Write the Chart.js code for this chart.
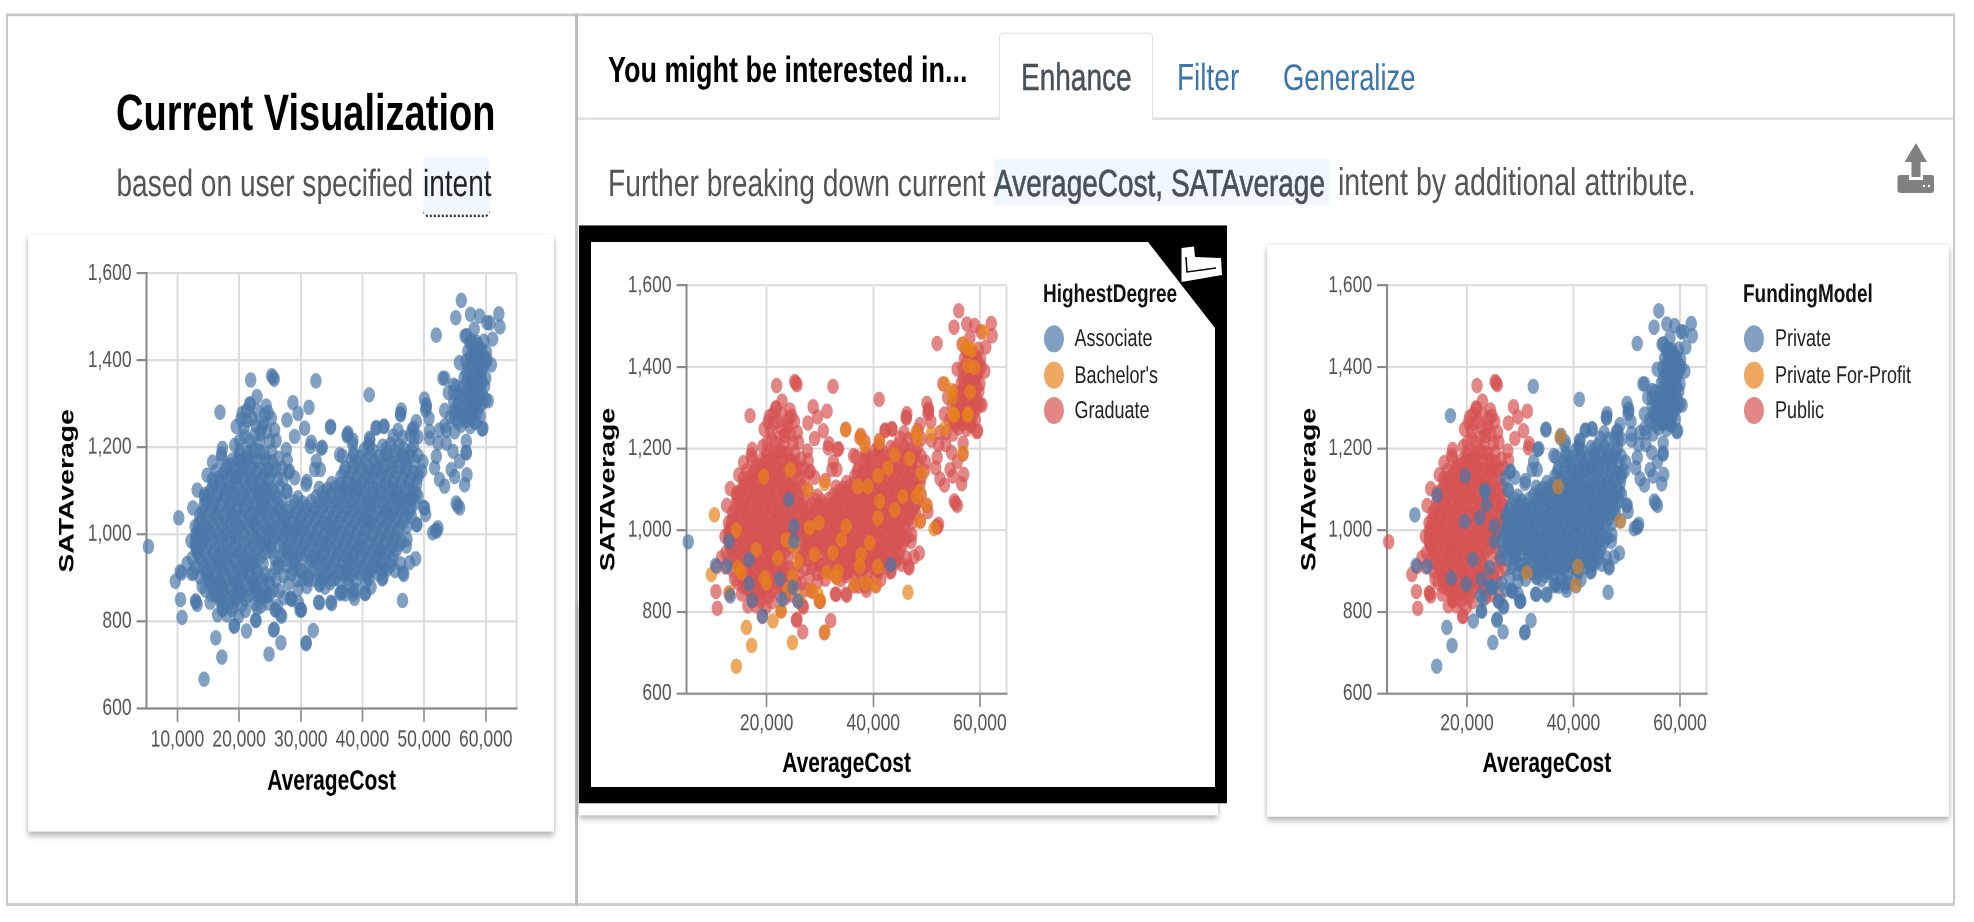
<!DOCTYPE html>
<html>
<head>
<meta charset="utf-8">
<title>Current Visualization</title>
<script src="https://cdn.jsdelivr.net/npm/chart.js@4"></script>
<style>
html, body { margin: 0; background: #fff; overflow: hidden; }
body { width: 1974px; height: 922px; position: relative; font-family: "Liberation Sans", Arial, sans-serif; text-rendering: geometricPrecision; }
/* la captura original esta estirada en vertical, asi que se estira todo igual */
#pagina { position: absolute; left: 0; top: 0; width: 1974px; height: 683px; transform: scale(1, 1.35); transform-origin: 0 0; }
#pagina div, #pagina canvas { position: absolute; }
.txt { white-space: nowrap; line-height: 1; transform: translateY(-50%); }
svg { position: absolute; left: 0; top: 0; }
</style>
</head>
<body>
<div id="pagina"></div>
<svg width="1974" height="922">
  <path d="M1181.5 248 L1194 246.5 L1195 257 L1221 258 L1222 275 L1181.5 282 Z" fill="#fff"/>
  <path d="M1186 257 L1187 272 L1216 268" fill="none" stroke="#000" stroke-width="1.5"/>
  <path d="M1916 143 L1927 162 L1920.5 162 L1920.5 177 L1911.5 177 L1911.5 162 L1904.5 162 Z" fill="#808080"/>
  <path d="M1900 175 L1909 175 L1909 180 L1923 180 L1923 175 L1932 175 Q1934 175 1934 178 L1934 190 Q1934 193 1931 193 L1901 193 Q1897.5 193 1897.5 190 L1897.5 178 Q1897.5 175 1900 175 Z" fill="#808080"/>
  <circle cx="1924" cy="186" r="1.2" fill="#fff"/><circle cx="1929" cy="186" r="1.2" fill="#fff"/>
</svg>
<script>
// etiquetas
const tituloX = 'AverageCost';
const tituloY = 'SATAverage';
const gradosLabels = ['Associate', "Bachelor's", 'Graduate'];
const fondosLabels = ['Private', 'Private For-Profit', 'Public'];
const ticksY = [600, 800, 1000, 1200, 1400, 1600];
const ticksXActual = [10000, 20000, 30000, 40000, 50000, 60000, 65000];
const ticksXChico = [20000, 40000, 60000, 65000];

// AverageCost, SATAverage, por tipo de universidad y grado
const publicAssociate = [
    [5300, 972], [19250, 790], [16690, 928], [12940, 973], [13190, 839], [16690, 869], [22440, 881], [24190, 1075], [17250, 828]
];
const privateAssociate = [
    [10440, 914], [12565, 912], [22940, 831], [24940, 861], [25880, 827], [43250, 916], [25130, 1010], [25130, 973]
];
const publicBachelor = [
    [9650, 892], [19440, 1132], [18065, 953], [22130, 932], [14630, 908], [15250, 896], [19940, 871], [19630, 884],
    [24440, 1148], [23690, 977], [25250, 961], [14315, 1000], [25880, 924], [24940, 888], [24000, 855], [26190, 835], [12940, 847]
];
const privateBachelor = [
    [10220, 1038], [16220, 762], [17200, 718], [14320, 667], [21200, 778], [22750, 802], [24850, 725], [30900, 751],
    [30100, 827], [28400, 853], [29630, 843], [46500, 848], [51400, 1004], [34820, 1246], [38380, 1209], [41190, 1217],
    [48060, 1241], [48380, 1225], [50880, 1237], [53380, 1250], [54940, 1286], [57750, 1286], [56810, 1189], [44000, 1185],
    [46800, 1176], [42750, 1152], [49000, 1140], [40880, 1134], [39000, 1107], [48690, 1095], [48060, 1083], [49940, 1062],
    [41190, 1071], [44000, 1050], [45560, 1083], [40880, 1030], [29810, 1018], [28060, 1007], [30880, 1115], [27750, 1099],
    [34000, 977], [39310, 969], [34940, 1010], [29000, 941], [32440, 945], [37750, 941], [37440, 912], [33380, 900],
    [33065, 884], [36500, 867], [38500, 871], [56900, 1457], [60670, 1486], [53360, 1359], [54790, 1343], [54790, 1326],
    [57730, 1404], [58990, 1400], [57730, 1445], [58500, 1442], [58150, 1339], [55210, 1282], [57730, 1282]
];
const forProfitBachelor = [
    [37580, 1229], [37080, 1107], [48790, 1022], [40840, 911], [40400, 865], [31260, 896]
];
const publicGraduate = [
    [10500, 850], [10750, 809], [11550, 933], [10660, 911], [12330, 910], [12870, 1018], [13040, 969], [13640, 902],
    [13000, 845], [14540, 872], [15300, 844], [17400, 828], [19900, 812], [19190, 789], [21700, 1300], [28730, 1303],
    [31330, 1292], [27760, 1263], [29550, 1278], [30630, 1244], [29000, 1225], [31700, 1212], [31540, 1202], [27650, 1195],
    [24400, 1295], [21880, 1355], [25280, 1365], [25700, 1357], [25480, 1361], [22900, 1317], [21820, 1299], [20500, 1278],
    [19540, 1248], [22140, 1267], [24140, 1275], [25220, 1267], [25760, 1240], [21700, 1214], [23330, 1214], [24950, 1214],
    [17300, 1198], [17150, 1185], [26460, 1175], [24680, 1168], [25490, 1145], [18030, 1156], [20080, 1183], [15650, 1127],
    [14400, 1092], [20300, 1265], [23700, 1246], [20900, 1225], [22500, 1228], [19300, 1205], [22000, 1195], [23400, 1190],
    [20800, 1245], [21300, 1262], [22800, 1250], [23400, 1232], [24500, 1236], [26000, 1216], [20100, 1215], [24000, 1256],
    [21200, 1285], [22900, 1284], [24700, 1280], [27000, 1152], [27800, 1171], [12500, 1061], [13200, 1102], [14800, 1136],
    [15700, 1166], [12200, 985], [12400, 945], [13000, 925], [16300, 1146], [17200, 1176], [14000, 881], [15600, 861],
    [17000, 846], [19000, 835], [20500, 838], [21500, 860], [22800, 862], [21000, 825], [23500, 835], [18000, 815],
    [16500, 815], [25800, 945], [26400, 925], [25200, 905], [26000, 895], [27200, 905], [25600, 872], [18900, 826],
    [21200, 1176], [19800, 1170], [22300, 1166], [18700, 1160], [20700, 1158],
    [17400, 1141], [18700, 1137], [20300, 1144], [21500, 1139], [22800, 1143], [24000, 1136],
    [15900, 1116], [17000, 1121], [18400, 1113], [19500, 1119], [20900, 1115], [22200, 1122], [23300, 1116], [24700, 1112],
    [15200, 1097], [16600, 1094], [17800, 1101], [19100, 1096], [20500, 1092], [21800, 1099], [23100, 1093], [24400, 1100], [25800, 1095],
    [14600, 1078], [15900, 1073], [17300, 1079], [18600, 1074], [20000, 1080], [21300, 1075], [22700, 1072], [24000, 1078], [25500, 1074], [26900, 1077],
    [14100, 1052], [15400, 1057], [16800, 1051], [18200, 1056], [19500, 1053], [20900, 1058], [22300, 1050], [23700, 1055], [25000, 1052], [26400, 1057],
    [13800, 1034], [15100, 1030], [16500, 1035], [17900, 1029], [19200, 1033], [20600, 1036], [22000, 1030], [23400, 1034], [24800, 1031], [26200, 1035],
    [13300, 1008], [14700, 1013], [16100, 1009], [17400, 1012], [18900, 1007], [20300, 1011], [21700, 1014], [23000, 1008], [24500, 1012], [25900, 1007],
    [13000, 991], [14400, 988], [15800, 992], [17200, 987], [18600, 993], [20000, 989], [21400, 986], [22800, 991], [24200, 988], [25600, 992],
    [13100, 966], [14600, 970], [16000, 965], [17400, 971], [18800, 967], [20200, 964], [21600, 969], [23000, 966], [24400, 972],
    [13700, 948], [15100, 943], [16500, 949], [17900, 945], [19300, 942], [20700, 947], [22100, 944], [23500, 948],
    [14200, 923], [15600, 928], [17000, 924], [18400, 926], [19800, 921], [21200, 927], [22600, 923],
    [15000, 907], [16300, 903], [17700, 906], [19100, 902], [20500, 908], [21900, 904], [23400, 901],
    [15400, 882], [16900, 886], [18200, 881], [19700, 885], [21100, 883], [22600, 887], [24100, 880],
    [16200, 860], [17600, 864], [19000, 858], [20400, 862], [23300, 859],
    [17500, 843], [18900, 846], [24600, 842],
    [20100, 1192], [21400, 1188], [22700, 1193], [24000, 1187], [25300, 1191],
    [18900, 1171], [20300, 1168], [21600, 1173], [22900, 1169], [24200, 1172], [25400, 1167],
    [17900, 1149], [19300, 1152], [20700, 1148], [22000, 1153], [23400, 1150], [24700, 1147], [26000, 1152],
    [16700, 1129], [18000, 1126], [19400, 1131], [20700, 1127], [22000, 1130], [23500, 1125], [24900, 1129], [26200, 1127],
    [15600, 1106], [17000, 1109], [18400, 1104], [19800, 1108], [21200, 1105], [22600, 1110], [24000, 1106], [25300, 1103], [26600, 1108],
    [15000, 1088], [16300, 1085], [17700, 1090], [19000, 1086], [20400, 1083], [21800, 1088], [23200, 1084], [24500, 1089], [26100, 1085],
    [14300, 1066], [15700, 1063], [17000, 1067], [18500, 1064], [19800, 1061], [21200, 1066], [22600, 1063], [24000, 1068], [25300, 1064], [26700, 1062],
    [13600, 1044], [14800, 1041], [16200, 1045], [17600, 1042], [18900, 1046], [20300, 1040], [21700, 1044], [23100, 1041], [24500, 1045], [25900, 1042], [27000, 1046],
    [13400, 1022], [14500, 1019], [15800, 1023], [17300, 1020], [18600, 1024], [20000, 1018], [21400, 1022], [22700, 1020], [24100, 1023], [25500, 1019], [26800, 1021],
    [13000, 1001], [14000, 998], [15300, 1002], [16700, 999], [18000, 1003], [19400, 997], [20800, 1001], [22200, 998], [23500, 1002], [24900, 999], [26300, 1000],
    [12900, 979], [13900, 976], [15300, 980], [16800, 977], [18100, 981], [19500, 975], [20900, 979], [22300, 976], [23700, 980], [25100, 977],
    [13200, 958], [14400, 955], [15800, 959], [17100, 956], [18600, 960], [20000, 954], [21300, 958], [22800, 955], [24300, 959],
    [14000, 936], [15400, 933], [16800, 937], [18200, 934], [19600, 938], [21000, 932], [22400, 936], [23900, 933],
    [14700, 915], [15900, 912], [17300, 916], [18800, 913], [20200, 917], [21600, 911], [23000, 915],
    [15200, 895], [16600, 892], [18000, 896], [19400, 893], [20800, 897], [22300, 891], [23800, 895],
    [15900, 874], [17300, 871], [18700, 875], [20100, 872], [21800, 876], [23000, 870],
    [16900, 853], [18300, 850], [19700, 854], [21000, 851]
];
const privateGraduate = [
    [25580, 780], [26780, 751], [30840, 749], [32030, 779], [25700, 782], [24390, 864], [22600, 841], [25880, 826],
    [26900, 812], [30060, 826], [33040, 843], [35010, 841], [28570, 850], [38710, 853], [36330, 864], [37220, 863],
    [40500, 864], [41400, 879], [33940, 879], [43190, 898], [42300, 925], [51850, 1009], [52080, 1008], [52250, 1015],
    [55200, 1072], [55760, 1061], [55430, 1066], [50090, 1061], [50250, 1046], [48840, 1023], [47920, 1042], [47220, 989],
    [47110, 973], [48630, 944], [47650, 935], [46570, 912], [43330, 920], [42520, 962], [16900, 1281],
    [34840, 1248], [33500, 1200], [32520, 1168], [32250, 1149], [33170, 1149], [28190, 1145], [27110, 1126], [29000, 1130],
    [31000, 1122], [27760, 1099], [29540, 1084], [37650, 1233], [38460, 1217], [36300, 1183], [38570, 1187], [41170, 1221],
    [41060, 1202], [42250, 1246], [43490, 1249], [46300, 1286], [46190, 1275], [45760, 1239], [48730, 1259], [48300, 1244],
    [50350, 1298], [50250, 1286], [50790, 1267], [53330, 1285], [54950, 1267], [56570, 1263], [58360, 1298], [59550, 1244],
    [58360, 1257], [53600, 1239], [54950, 1236], [50900, 1221], [52520, 1240], [52250, 1210], [53600, 1210], [54680, 1191],
    [56840, 1214], [56840, 1187], [55760, 1168], [54410, 1149], [54950, 1133], [56950, 1137], [56570, 1114], [53330, 1111],
    [52520, 1126], [51700, 1153], [51980, 1179], [41100, 1321], [32450, 1353], [56030, 1538], [55130, 1498], [57520, 1506],
    [59010, 1502], [62120, 1507], [62300, 1477], [60200, 1487], [61100, 1449], [51970, 1458], [58120, 1472], [56630, 1456],
    [60900, 1390], [53050, 1359], [55730, 1395], [60400, 1307], [59400, 1242], [53940, 1326], [55430, 1319], [42200, 1244],
    [43500, 1248], [37500, 1227], [46180, 1277], [50060, 1311], [50360, 1292], [14360, 1086], [19660, 1133], [23500, 1094],
    [23310, 1099], [23620, 1062], [22370, 1030], [19560, 1022], [21120, 928], [17050, 883], [19870, 868], [22680, 880],
    [24250, 908], [24560, 859], [26750, 815], [22680, 803], [29570, 875], [28320, 853], [29880, 826], [32890, 844],
    [34890, 844], [36770, 867], [38520, 863], [43340, 900], [33300, 1198], [36770, 1180], [28000, 1143],
    [28000, 888], [26500, 870], [27300, 855], [31000, 880], [29500, 895], [27800, 962],
    [57400, 1441], [58600, 1436], [59700, 1444], [57100, 1421], [58200, 1417], [59300, 1424], [60100, 1419],
    [56800, 1398], [58000, 1403], [59100, 1396], [60200, 1401], [57200, 1382], [58300, 1378], [59500, 1383],
    [56500, 1361], [57700, 1357], [58900, 1363], [60000, 1359], [56300, 1338], [57500, 1342], [58600, 1337], [59800, 1341],
    [56000, 1321], [57300, 1318], [58400, 1323], [59500, 1319], [55500, 1299], [57000, 1303], [58300, 1298], [59400, 1301],
    [55800, 1279], [57100, 1283], [58500, 1277], [55400, 1258], [56800, 1262], [58200, 1259],
    [57900, 1431], [59000, 1428], [57500, 1409], [58700, 1412], [59800, 1407], [57500, 1391], [58700, 1388], [59900, 1392],
    [56900, 1371], [58000, 1368], [59200, 1373], [57000, 1352], [58200, 1349], [59400, 1353], [56900, 1331], [58000, 1328],
    [59200, 1332], [56400, 1311], [57700, 1308], [58900, 1312], [60000, 1309], [56300, 1291], [57600, 1288], [58900, 1292],
    [56400, 1271], [57800, 1268], [59100, 1272], [56000, 1251], [57500, 1248], [54800, 1305], [55200, 1340], [54300, 1270],
    [45000, 1226], [46500, 1223], [47800, 1228], [49000, 1224], [41000, 1206], [43300, 1203], [44600, 1208], [45900, 1204], [48300, 1202],
    [40300, 1195], [41700, 1193], [43900, 1197], [45300, 1192], [46700, 1196], [47900, 1194],
    [38600, 1181], [39700, 1178], [41300, 1183], [42700, 1179], [43900, 1182], [45200, 1177], [46400, 1183], [47700, 1179], [49000, 1181],
    [38200, 1169], [39300, 1166], [40500, 1170], [41900, 1167], [43200, 1171], [44600, 1165], [45900, 1169], [47100, 1166], [48400, 1170], [49800, 1167],
    [37200, 1153], [38500, 1157], [39800, 1152], [41000, 1156], [42200, 1154], [43500, 1158], [44800, 1153], [46000, 1156], [47300, 1151],
    [37000, 1144], [38200, 1141], [39500, 1145], [40800, 1142], [42000, 1146], [43200, 1140], [44500, 1144], [45700, 1141], [47000, 1145], [48300, 1142], [49600, 1146],
    [36500, 1132], [37800, 1128], [39000, 1131], [40300, 1127], [41500, 1133], [42800, 1129], [44000, 1132], [45300, 1128], [46500, 1131], [47800, 1127], [49000, 1132],
    [35000, 1117], [36300, 1114], [37500, 1118], [38700, 1115], [40000, 1119], [41200, 1113], [42400, 1117], [43700, 1114], [45000, 1118], [46200, 1115], [47500, 1119], [48800, 1116],
    [33000, 1106], [34300, 1103], [35500, 1107], [36800, 1102], [38000, 1105], [39300, 1108], [40500, 1103], [41800, 1106], [43000, 1102], [44300, 1107], [45500, 1104], [47000, 1108], [48200, 1103],
    [32500, 1086], [33800, 1083], [35000, 1088], [36300, 1084], [37600, 1087], [38800, 1082], [40100, 1086], [41400, 1083], [42700, 1088], [44000, 1084], [45200, 1087], [46500, 1082], [47800, 1085], [49000, 1088],
    [28400, 1064], [29700, 1060], [31000, 1063], [32300, 1059], [33600, 1065], [34900, 1061], [36200, 1064], [37500, 1060], [38800, 1063], [40100, 1058], [41400, 1064], [42700, 1060], [44000, 1063], [45300, 1059], [46600, 1064], [47900, 1061],
    [27500, 1038], [28800, 1042], [30100, 1039], [31400, 1043], [32700, 1037], [34000, 1041], [35300, 1038], [36600, 1043], [37900, 1039], [39200, 1042], [40500, 1037], [41800, 1041], [43100, 1038], [44400, 1042], [45700, 1039], [47000, 1043],
    [27800, 1019], [29100, 1016], [30400, 1020], [31700, 1015], [33000, 1018], [34300, 1021], [35600, 1016], [36900, 1019], [38200, 1015], [39500, 1020], [40800, 1017], [42100, 1021], [43400, 1016], [44700, 1019], [46000, 1015], [47200, 1018],
    [27200, 997], [28500, 994], [29800, 998], [31100, 993], [32400, 996], [33700, 999], [35000, 994], [36300, 997], [37600, 993], [38900, 998], [40200, 995], [41500, 999], [42800, 994], [44100, 997], [45300, 993],
    [26500, 977], [27900, 973], [29200, 976], [30500, 972], [31800, 978], [33100, 974], [34400, 977], [35700, 972], [37000, 975], [38300, 979], [39600, 973], [40900, 976], [42200, 972], [43500, 977], [44800, 974], [46000, 978],
    [26800, 950], [28100, 954], [29400, 951], [30700, 955], [32000, 949], [33300, 953], [34600, 950], [35900, 955], [37200, 951], [38500, 954], [39800, 949], [41100, 953], [42400, 950], [43700, 955], [45000, 951],
    [26300, 932], [27700, 928], [29000, 931], [31500, 927], [32800, 933], [34100, 929], [35400, 932], [36700, 928], [38000, 931], [39300, 927], [40600, 933], [41900, 929], [43200, 931], [44500, 928], [46200, 932],
    [28500, 909], [30300, 914], [31200, 903], [33000, 907], [34400, 911], [35600, 899], [36600, 910], [38100, 906], [39400, 912], [40700, 905], [42500, 909], [46700, 908],
    [33100, 886], [34800, 889], [37800, 884], [40500, 887], [38900, 872],
    [33600, 1096], [35000, 1093], [36400, 1097], [37700, 1094], [39000, 1098], [40400, 1092], [41700, 1096], [43000, 1093], [44400, 1097], [45700, 1094], [47200, 1096],
    [29000, 1075], [30300, 1072], [31700, 1076], [33000, 1073], [34300, 1077], [35600, 1071], [36900, 1075], [38200, 1072], [39500, 1076], [40800, 1073], [42100, 1077], [43400, 1071], [44700, 1075], [46000, 1072], [47300, 1076], [48500, 1073],
    [28000, 1052], [29300, 1049], [30600, 1053], [31900, 1050], [33200, 1054], [34500, 1048], [35800, 1052], [37100, 1049], [38400, 1053], [39700, 1050], [41000, 1054], [42300, 1048], [43600, 1052], [44900, 1049], [46200, 1053], [47500, 1050],
    [27300, 1030], [28500, 1027], [29800, 1031], [31000, 1028], [32300, 1032], [33600, 1026], [34900, 1030], [36200, 1027], [37500, 1031], [38800, 1028], [40100, 1032], [41400, 1026], [42700, 1030], [44000, 1027], [45300, 1031], [46600, 1028],
    [27500, 1008], [28800, 1005], [30100, 1009], [31400, 1006], [32700, 1010], [34000, 1004], [35300, 1008], [36600, 1005], [37900, 1009], [39200, 1006], [40500, 1010], [41800, 1004], [43100, 1008], [44400, 1005], [45700, 1009],
    [27000, 986], [28300, 983], [29500, 987], [30800, 984], [32100, 988], [33400, 982], [34700, 986], [36000, 983], [37300, 987], [38600, 984], [39900, 988], [41200, 982], [42500, 986], [43800, 983], [45000, 987], [46400, 984],
    [27300, 964], [28600, 961], [29900, 965], [31200, 962], [32500, 966], [33800, 960], [35100, 964], [36400, 961], [37700, 965], [39000, 962], [40300, 966], [41600, 960], [42900, 964], [44200, 961], [45500, 965],
    [27600, 942], [28900, 939], [30200, 943], [31700, 940], [33000, 944], [34300, 938], [35600, 942], [36900, 939], [38200, 943], [39500, 940], [40800, 944], [42100, 938], [43400, 942], [44700, 939],
    [28800, 920], [30000, 917], [32000, 921], [33600, 918], [34900, 922], [36200, 916], [37500, 920], [38800, 917], [40100, 921], [41300, 918], [44000, 920], [45300, 917],
    [30500, 899], [32300, 896], [33700, 900], [35100, 897], [36300, 895], [37500, 899], [39000, 896], [41000, 900]
];

const azul = 'rgba(76,120,168,0.7)';
const naranja = 'rgba(232,131,28,0.7)';
const rojo = 'rgba(214,84,82,0.7)';
const S = 1.35;

const pagina = document.querySelector('#pagina');

function caja(x1, y1, x2, y2, estilo) {
    const d = document.createElement('div');
    d.style.cssText = `left:${x1}px;top:${y1 / S}px;width:${x2 - x1}px;height:${(y2 - y1) / S}px;box-sizing:border-box;${estilo || ''}`;
    pagina.appendChild(d);
    return d;
}

function texto(contenido, x, cy, estilo) {
    const d = document.createElement('div');
    d.className = 'txt';
    d.style.cssText = `left:${x}px;top:${cy / S}px;${estilo}`;
    d.innerHTML = contenido;
    pagina.appendChild(d);
    return d;
}

// marcos
caja(6, 14, 1955, 906, 'border:2.5px solid #c8c8c8;');
caja(575, 14, 578, 906, 'background:#bdbdbd;');
// pestañas
caja(578, 117, 1953, 119.5, 'background:#dee2e6;');
caja(999, 33, 1153, 120, 'background:#fff;border:1.5px solid #dee2e6;border-bottom:none;border-radius:4px 4px 0 0;');
texto('You might be interested in...', 608, 70.5, 'font:bold 27px "Liberation Sans";color:#000;');
texto('Enhance', 1021, 78, 'font:28px "Liberation Sans";color:#495057;-webkit-text-stroke:0.4px #495057;');
texto('Filter', 1177, 78, 'font:28px "Liberation Sans";color:#3b75ad;');
texto('Generalize', 1283, 78, 'font:27.4px "Liberation Sans";color:#3b75ad;');
// textos
texto('Current Visualization', 116, 114.5, 'font:bold 38px "Liberation Sans";color:#000;');
texto('based on user specified', 116.5, 184, 'font:28.1px "Liberation Sans";color:#555;');
caja(423, 156, 490, 218, 'background:#f0f7ff;border-bottom:2px dotted #333;border-radius:5px;');
texto('intent', 423, 184, 'font:28px "Liberation Sans";color:#222;');
caja(994, 159, 1330, 205, 'background:#f0f7ff;');
texto('Further breaking down current', 608, 184, 'font:28.2px "Liberation Sans";color:#555;');
texto('AverageCost, SATAverage', 994, 184, 'font:28px "Liberation Sans";color:#495057;-webkit-text-stroke:0.5px #495057;');
texto('intent by additional attribute.', 1338, 184, 'font:28.6px "Liberation Sans";color:#555;');
// tarjetas
const sombra = 'background:#fff;box-shadow:0 3px 5px rgba(0,0,0,0.28),0 0 2px rgba(0,0,0,0.12);';
caja(28, 235, 554, 832, sombra);
caja(579, 600, 1218, 815, sombra);
caja(1267, 245, 1949, 817, sombra);
caja(579, 225, 1227, 803, 'background:#000;');
caja(591, 242, 1215, 787, 'background:#fff;clip-path:polygon(0 0,557px 0,100% 15.8%,100% 100%,0 100%);');

function leyenda(titulo, etiquetas, colores, xTexto, xCirculo) {
    texto(titulo, xCirculo - 11, 295, 'font:bold 19px "Liberation Sans";color:#111;');
    const ys = [339, 375, 410];
    etiquetas.forEach((etiqueta, i) => {
        caja(xCirculo - 10, ys[i] - 13.5, xCirculo + 10, ys[i] + 13.5, `border-radius:50%;background:${colores[i]};`);
        texto(etiqueta, xTexto, ys[i], 'font:18px "Liberation Sans";color:#222;');
    });
}
leyenda('HighestDegree', gradosLabels, [azul, naranja, rojo], 1074.5, 1054);
leyenda('FundingModel', fondosLabels, [azul, naranja, rojo], 1775, 1754);

function crearGrafico(g) {
    const pad = 14;
    const izq = g.tituloCx - 12.6;
    const alto = (g.abajo - g.arriba) / S;
    const alturaCanvas = Math.round(pad + alto + g.ejeX);
    const anchoEjeY = g.izquierda - izq;
    const c = document.createElement('canvas');
    c.width = Math.ceil(g.derecha - izq + 40);
    c.height = alturaCanvas;
    c.style.left = izq + 'px';
    c.style.top = (g.arriba / S - pad) + 'px';
    pagina.appendChild(c);
    new Chart(c, {
        type: 'scatter',
        // el primer dataset de la lista queda dibujado encima
        data: { datasets: g.series.map(s => ({
            label: s.nombre,
            data: s.puntos.map(p => ({ x: p[0], y: p[1] })),
            backgroundColor: s.color,
            borderWidth: 0,
            pointRadius: 5.7,
            pointHoverRadius: 5.7,
            clip: false
        })) },
        options: {
            responsive: false,
            devicePixelRatio: 2,
            animation: false,
            layout: { padding: { top: pad, right: c.width - (g.derecha - izq), left: 0, bottom: 0 } },
            plugins: { legend: { display: false }, tooltip: { enabled: false } },
            scales: {
                x: {
                    type: 'linear', min: 5000, max: 65000,
                    afterBuildTicks: s => { s.ticks = g.ticksX.map(v => ({ value: v })); },
                    afterFit: s => { s.height = alturaCanvas - pad - alto; },
                    grid: {
                        color: '#ddd', lineWidth: 2, tickLength: 10, tickWidth: 1.6,
                        tickColor: ctx => ctx.tick && ctx.tick.value === 65000 ? 'rgba(0,0,0,0)' : '#888'
                    },
                    border: { color: '#888', width: 1.6 },
                    ticks: {
                        autoSkip: false, maxRotation: 0, minRotation: 0, padding: g.padX, color: '#555',
                        font: { family: 'Liberation Sans', size: 17.5 },
                        callback: v => v === 65000 ? '' : v.toLocaleString('en-US')
                    },
                    title: { display: true, text: tituloX, color: '#000', padding: 0,
                        font: { family: 'Liberation Sans', size: 21, weight: 'bold', lineHeight: 1.2 } }
                },
                y: {
                    type: 'linear', min: 600, max: 1600,
                    afterBuildTicks: s => { s.ticks = ticksY.map(v => ({ value: v })); },
                    afterFit: s => { s.width = anchoEjeY; },
                    grid: { color: '#ddd', lineWidth: 1.6, tickLength: 10, tickWidth: 1.6, tickColor: '#888' },
                    border: { color: '#888', width: 2 },
                    ticks: {
                        autoSkip: false, padding: 5, color: '#555',
                        font: { family: 'Liberation Sans', size: 17.5 },
                        callback: v => v.toLocaleString('en-US')
                    },
                    title: { display: true, text: tituloY, color: '#000', padding: 0,
                        font: { family: 'Liberation Sans', size: 21, weight: 'bold', lineHeight: 1.2 } }
                }
            }
        }
    });
}

crearGrafico({
    tituloCx: 68, izquierda: 147, derecha: 517, arriba: 272, abajo: 709, ejeX: 67, padX: 3, ticksX: ticksXActual,
    series: [{
        nombre: 'Record',
        color: azul,
        puntos: [].concat(publicGraduate, publicBachelor, publicAssociate, privateGraduate, privateBachelor, privateAssociate, forProfitBachelor)
    }]
});
crearGrafico({
    tituloCx: 609, izquierda: 687, derecha: 1007, arriba: 283, abajo: 693, ejeX: 65, padX: 2, ticksX: ticksXChico,
    series: [
        { nombre: 'Associate', color: azul, puntos: [].concat(publicAssociate, privateAssociate) },
        { nombre: "Bachelor's", color: naranja, puntos: [].concat(publicBachelor, privateBachelor, forProfitBachelor) },
        { nombre: 'Graduate', color: rojo, puntos: [].concat(publicGraduate, privateGraduate) }
    ]
});
crearGrafico({
    tituloCx: 1310, izquierda: 1387.5, derecha: 1707, arriba: 283, abajo: 693, ejeX: 65, padX: 2, ticksX: ticksXChico,
    series: [
        { nombre: 'Private For-Profit', color: 'rgba(232,131,28,0.6)', puntos: forProfitBachelor },
        { nombre: 'Private', color: azul, puntos: [].concat(privateGraduate, privateBachelor, privateAssociate) },
        { nombre: 'Public', color: rojo, puntos: [].concat(publicGraduate, publicBachelor, publicAssociate) }
    ]
});
</script>
</body>
</html>
